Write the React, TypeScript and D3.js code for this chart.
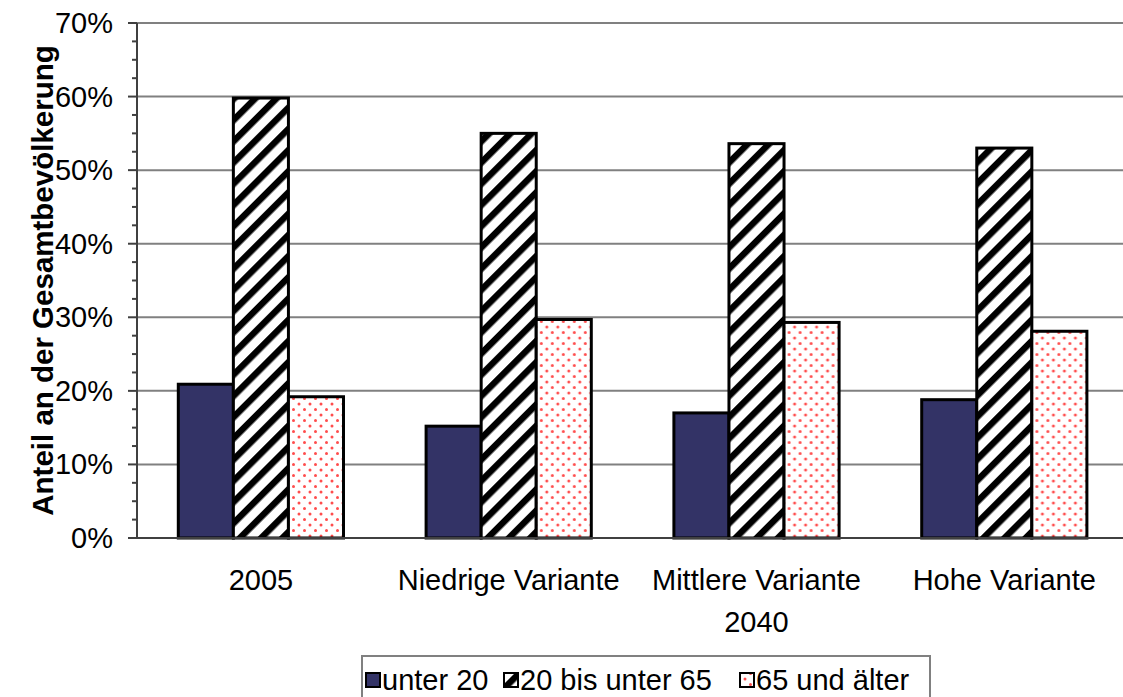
import React, { useRef, useEffect } from "react";
import * as d3 from "d3";

const categories = ["2005", "Niedrige Variante", "Mittlere Variante", "Hohe Variante"];
const seriesNames = ["unter 20", "20 bis unter 65", "65 und älter"];
const unter20 = [0.209, 0.152, 0.17, 0.188];
const mitte = [0.598, 0.55, 0.536, 0.53];
const ueber65 = [0.192, 0.297, 0.293, 0.281];
const yTicks = [0, 0.1, 0.2, 0.3, 0.4, 0.5, 0.6, 0.7];

const width = 1123;
const height = 697;

const App = () => {
  const ref: any = useRef();

  useEffect(() => {
    const svg = d3.select(ref.current);
    svg.selectAll("*").remove();

    const left = 137;
    const step = 247.8;
    const top = 23;
    const bottom = 538;
    const fs = 29;

    const x = d3
      .scaleBand()
      .domain(categories)
      .range([left, left + step * categories.length])
      .padding(0);
    const barW = step / 4.5;
    const xs = d3
      .scaleBand()
      .domain(seriesNames)
      .range([barW * 0.75, step - barW * 0.75])
      .padding(0);
    const y = d3.scaleLinear().domain([0, 0.7]).range([bottom, top]);

    // patterns
    const defs = svg.append("defs");
    const hatch = defs
      .append("pattern")
      .attr("id", "hatch")
      .attr("patternUnits", "userSpaceOnUse")
      .attr("width", 15)
      .attr("height", 15)
      .attr("patternTransform", "rotate(45)");
    hatch.append("rect").attr("width", 15).attr("height", 15).attr("fill", "white");
    hatch.append("rect").attr("x", 0).attr("width", 6.5).attr("height", 15).attr("fill", "black");

    const dots = defs
      .append("pattern")
      .attr("id", "dots")
      .attr("patternUnits", "userSpaceOnUse")
      .attr("width", 11)
      .attr("height", 11);
    dots.append("rect").attr("width", 11).attr("height", 11).attr("fill", "white");
    dots.append("circle").attr("cx", 2.5).attr("cy", 2.5).attr("r", 1.5).attr("fill", "#ff4d4d");
    dots.append("circle").attr("cx", 8).attr("cy", 8).attr("r", 1.5).attr("fill", "#ff4d4d");

    const fills = ["#333366", "url(#hatch)", "url(#dots)"];

    // gridlines
    svg
      .append("g")
      .selectAll("line")
      .data(yTicks.slice(1))
      .enter()
      .append("line")
      .attr("x1", left)
      .attr("x2", width)
      .attr("y1", (d) => y(d))
      .attr("y2", (d) => y(d))
      .attr("stroke", "#808080")
      .attr("stroke-width", 2);

    // bars
    const rows = categories.map((c, i) => ({
      cat: c,
      values: [unter20[i], mitte[i], ueber65[i]],
    }));
    const groups = svg
      .append("g")
      .selectAll("g")
      .data(rows)
      .enter()
      .append("g")
      .attr("transform", (d) => "translate(" + x(d.cat) + ",0)");
    groups
      .selectAll("rect")
      .data((d) => d.values.map((v, j) => ({ v, s: seriesNames[j], j })))
      .enter()
      .append("rect")
      .attr("x", (d: any) => xs(d.s))
      .attr("y", (d: any) => y(d.v))
      .attr("width", xs.bandwidth())
      .attr("height", (d: any) => bottom - y(d.v))
      .attr("fill", (d: any) => fills[d.j])
      .attr("stroke", "black")
      .attr("stroke-width", 3);

    // y axis
    const minor = d3.range(0, 0.7001, 0.025);
    svg
      .append("g")
      .selectAll("line")
      .data(minor)
      .enter()
      .append("line")
      .attr("x1", (d, i) => (i % 4 === 0 ? left - 9 : left - 5))
      .attr("x2", left)
      .attr("y1", (d) => y(d))
      .attr("y2", (d) => y(d))
      .attr("stroke", "#404040")
      .attr("stroke-width", 2);
    svg
      .append("line")
      .attr("x1", left)
      .attr("x2", left)
      .attr("y1", top)
      .attr("y2", bottom)
      .attr("stroke", "#404040")
      .attr("stroke-width", 2);
    svg
      .append("line")
      .attr("x1", left - 9)
      .attr("x2", width)
      .attr("y1", bottom)
      .attr("y2", bottom)
      .attr("stroke", "#404040")
      .attr("stroke-width", 2);

    svg
      .append("g")
      .selectAll("text")
      .data(yTicks)
      .enter()
      .append("text")
      .attr("x", 113)
      .attr("y", (d) => y(d) + 10)
      .attr("text-anchor", "end")
      .attr("font-size", fs)
      .text((d) => d3.format(".0%")(d));

    svg
      .append("text")
      .attr("transform", "translate(53," + (bottom + top) / 2 + ") rotate(-90)")
      .attr("text-anchor", "middle")
      .attr("font-size", 29.5)
      .attr("font-weight", "bold")
      .text("Anteil an der Gesamtbevölkerung");

    // category labels
    svg
      .append("g")
      .selectAll("text")
      .data(categories)
      .enter()
      .append("text")
      .attr("x", (d) => (x(d) as number) + step / 2)
      .attr("y", 590)
      .attr("text-anchor", "middle")
      .attr("font-size", fs)
      .text((d) => d);
    svg
      .append("text")
      .attr("x", (x(categories[2]) as number) + step / 2)
      .attr("y", 632)
      .attr("text-anchor", "middle")
      .attr("font-size", fs)
      .text("2040");

    // legend
    const lg = svg.append("g");
    lg.append("rect")
      .attr("x", 362)
      .attr("y", 656)
      .attr("width", 568)
      .attr("height", 60)
      .attr("fill", "white")
      .attr("stroke", "#808080")
      .attr("stroke-width", 2);
    const legendX = [366, 504, 740];
    seriesNames.forEach((s, j) => {
      lg.append("rect")
        .attr("x", legendX[j])
        .attr("y", 673)
        .attr("width", 14)
        .attr("height", 14)
        .attr("fill", fills[j])
        .attr("stroke", "black")
        .attr("stroke-width", 2);
      lg.append("text")
        .attr("x", legendX[j] + 16)
        .attr("y", 690)
        .attr("font-size", fs)
        .text(s);
    });
  }, []);

  return (
    <svg
      ref={ref}
      width={width}
      height={height}
      style={{ position: "absolute", left: 0, top: 0, fontFamily: "'Liberation Sans', Arial, sans-serif" }}
    ></svg>
  );
};

export default App;
